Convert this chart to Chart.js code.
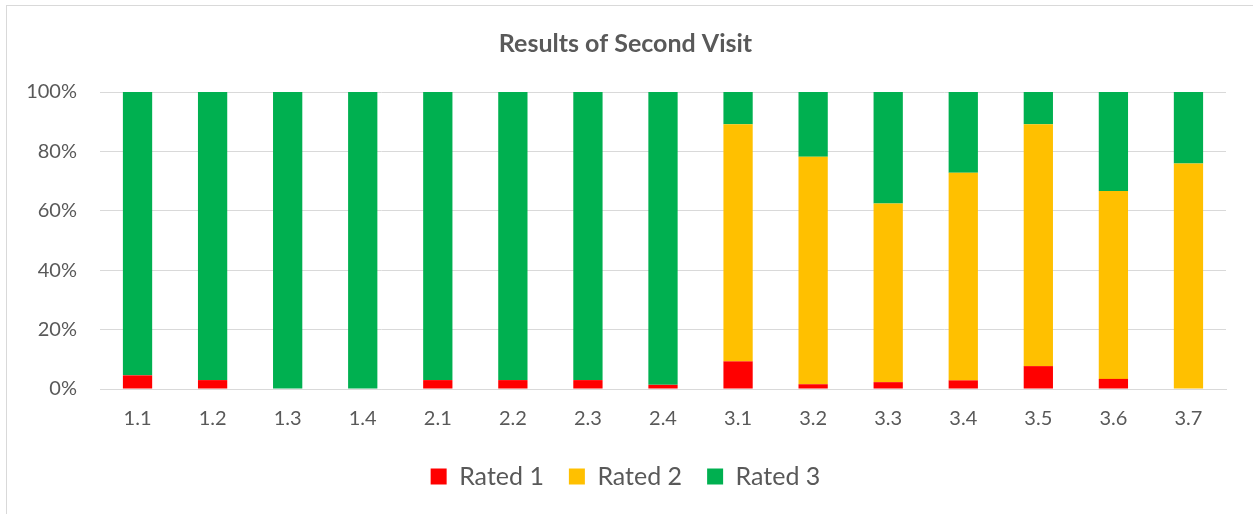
<!DOCTYPE html>
<html>
<head>
<meta charset="utf-8">
<script src="https://cdn.jsdelivr.net/npm/chart.js@4"></script>
<style>
  html, body { margin: 0; padding: 0; background: #fff; overflow: hidden; }
  #wrap { position: relative; width: 1253px; height: 514px; }
  #frame { position: absolute; left: 6px; top: 5px; width: 1400px; height: 700px; border: 1px solid #d9d9d9; box-sizing: border-box; pointer-events: none; }
</style>
</head>
<body>
<div id="wrap">
  <canvas id="chart" width="1253" height="514"></canvas>
  <div id="frame"></div>
</div>
<script>
const categories = ['1.1', '1.2', '1.3', '1.4', '2.1', '2.2', '2.3', '2.4', '3.1', '3.2', '3.3', '3.4', '3.5', '3.6', '3.7']
const rated1 = [4.6, 3.0, 0, 0, 3.0, 3.0, 3.0, 1.4, 9.3, 1.6, 2.3, 2.9, 7.7, 3.4, 0]
const rated2 = [0, 0, 0, 0, 0, 0, 0, 0, 79.8, 76.6, 60.2, 69.9, 81.4, 63.3, 75.9]
const rated3 = [95.4, 97.0, 100, 100, 97.0, 97.0, 97.0, 98.6, 10.9, 21.8, 37.5, 27.2, 10.9, 33.3, 24.1]
const yTicks = [0, 20, 40, 60, 80, 100]

const textColor = '#595959'
const gridColor = '#d9d9d9'
const fontFamily = 'Lato, "Open Sans", sans-serif'

function series(label, data, color) {
  return {
    label: label,
    data: data,
    backgroundColor: color,
    borderWidth: 0,
    categoryPercentage: 1,
    barPercentage: 0.39,
  }
}

let ctx = document.getElementById('chart').getContext('2d')
let chart = new Chart(ctx, {
  type: 'bar',
  data: {
    labels: categories,
    datasets: [
      series('Rated 1', rated1, '#ff0000'),
      series('Rated 2', rated2, '#ffc000'),
      series('Rated 3', rated3, '#00b050'),
    ],
  },
  options: {
    responsive: false,
    animation: false,
    // left padding nudges title and legend towards the original centre
    layout: { padding: { left: 25, right: 27, top: 0, bottom: 15 } },
    plugins: {
      title: {
        display: true,
        text: 'Results of Second Visit',
        color: textColor,
        font: { family: fontFamily, size: 25, weight: 'bold' },
        padding: { top: 29, bottom: 33 },
      },
      legend: {
        position: 'bottom',
        labels: {
          color: textColor,
          font: { family: fontFamily, size: 25 },
          boxWidth: 16,
          boxHeight: 16,
          padding: 25,
        },
      },
      tooltip: { enabled: false },
    },
    scales: {
      x: {
        stacked: true,
        grid: { display: false, drawTicks: false },
        border: { color: gridColor, width: 1 },
        ticks: { color: textColor, font: { family: fontFamily, size: 20 }, padding: 18 },
        afterFit: (scale) => { scale.height = 50 },
      },
      y: {
        stacked: true,
        min: 0,
        max: 100,
        afterBuildTicks: (scale) => { scale.ticks = yTicks.map((v) => ({ value: v })) },
        grid: { color: gridColor, drawTicks: false },
        border: { display: false },
        ticks: {
          color: textColor,
          font: { family: fontFamily, size: 20 },
          padding: 23,
          callback: (v) => v + '%',
        },
        afterFit: (scale) => { scale.width = 75 },
      },
    },
  },
})
</script>
</body>
</html>
